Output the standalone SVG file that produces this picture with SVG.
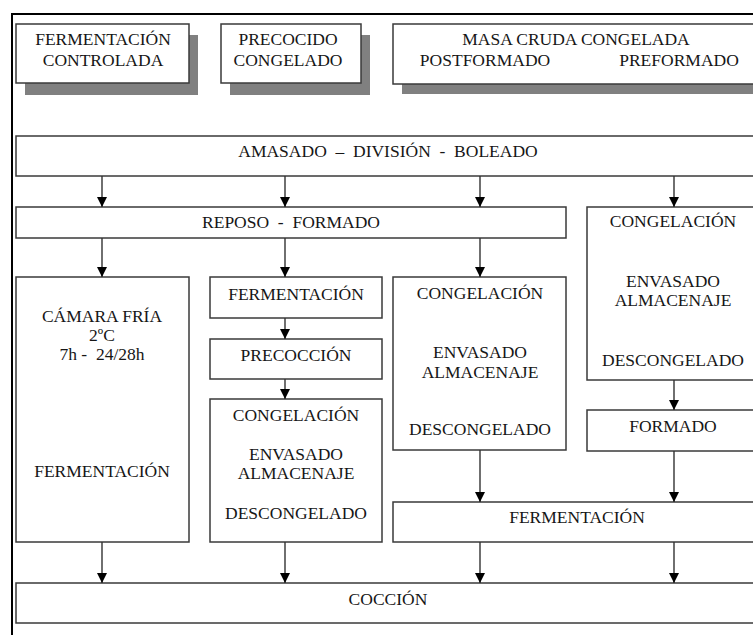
<svg xmlns="http://www.w3.org/2000/svg" width="753" height="635" viewBox="0 0 753 635">
<style>
.bx{fill:#fff;stroke:#3a3a3a;stroke-width:1.5}
.sh{fill:#808080;stroke:none}
.t{font-size:17.5px;fill:#161616;text-anchor:middle}
.c{stroke:#333;stroke-width:1.4;fill:none;marker-end:url(#ah)}
</style>
<defs>
<marker id="ah" viewBox="0 0 10 10" refX="10" refY="5" markerWidth="10" markerHeight="11" markerUnits="userSpaceOnUse" orient="auto">
<path d="M0,0 L10,5 L0,10 z" fill="#000"/>
</marker>
</defs>
<rect width="753" height="635" fill="#fff"/>
<rect id="frame" x="12" y="14" width="760" height="640" fill="none" stroke="#000" stroke-width="2"/>

<g font-family="'Liberation Serif', 'DejaVu Serif', serif">
<g id="n-fermentacion-controlada">
<rect class="sh" x="25" y="35" width="173" height="60"/>
<rect class="bx" x="16" y="24" width="173" height="59"/>
<text class="t" x="103" y="45">FERMENTACIÓN</text>
<text class="t" x="103" y="66">CONTROLADA</text>
</g>
<g id="n-precocido-congelado">
<rect class="sh" x="230" y="35" width="140" height="60"/>
<rect class="bx" x="221" y="24" width="140" height="59"/>
<text class="t" x="288" y="45">PRECOCIDO</text>
<text class="t" x="288" y="66">CONGELADO</text>
</g>
<g id="n-masa-cruda">
<rect class="sh" x="402" y="34" width="380" height="60"/>
<rect class="bx" x="393" y="24" width="380" height="60"/>
<text class="t" x="576" y="45">MASA CRUDA CONGELADA</text>
<text class="t" x="485" y="66">POSTFORMADO</text>
<text class="t" x="679" y="66">PREFORMADO</text>
</g>

<g id="n-amasado">
<rect class="bx" x="16" y="136" width="760" height="40"/>
<text class="t" x="388" y="157" xml:space="preserve">AMASADO  –  DIVISIÓN  -  BOLEADO</text>
</g>
<g id="n-reposo">
<rect class="bx" x="16" y="207" width="550" height="31"/>
<text class="t" x="291" y="228" xml:space="preserve">REPOSO  -  FORMADO</text>
</g>
<g id="n-congelacion-der">
<rect class="bx" x="587" y="207" width="190" height="173"/>
<text class="t" x="673" y="227">CONGELACIÓN</text>
<text class="t" x="673" y="287">ENVASADO</text>
<text class="t" x="673" y="306">ALMACENAJE</text>
<text class="t" x="673" y="366">DESCONGELADO</text>
</g>
<g id="n-camara">
<rect class="bx" x="16" y="277" width="173" height="265"/>
<text class="t" x="102" y="322">CÁMARA FRÍA</text>
<text class="t" x="102" y="341">2ºC</text>
<text class="t" x="102" y="360" xml:space="preserve">7h -  24/28h</text>
<text class="t" x="102" y="477">FERMENTACIÓN</text>
</g>
<g id="n-fermentacion-mid">
<rect class="bx" x="210" y="277" width="172" height="41"/>
<text class="t" x="296" y="300">FERMENTACIÓN</text>
</g>
<g id="n-precoccion">
<rect class="bx" x="210" y="339" width="172" height="40"/>
<text class="t" x="296" y="361">PRECOCCIÓN</text>
</g>
<g id="n-congelacion-mid">
<rect class="bx" x="210" y="399" width="172" height="143"/>
<text class="t" x="296" y="421">CONGELACIÓN</text>
<text class="t" x="296" y="460">ENVASADO</text>
<text class="t" x="296" y="479">ALMACENAJE</text>
<text class="t" x="296" y="519">DESCONGELADO</text>
</g>
<g id="n-congelacion-3">
<rect class="bx" x="393" y="277" width="173" height="173"/>
<text class="t" x="480" y="299">CONGELACIÓN</text>
<text class="t" x="480" y="358">ENVASADO</text>
<text class="t" x="480" y="378">ALMACENAJE</text>
<text class="t" x="480" y="435">DESCONGELADO</text>
</g>
<g id="n-formado">
<rect class="bx" x="587" y="410" width="190" height="41"/>
<text class="t" x="673" y="432">FORMADO</text>
</g>
<g id="n-fermentacion-bottom">
<rect class="bx" x="393" y="502" width="384" height="40"/>
<text class="t" x="577" y="523">FERMENTACIÓN</text>
</g>
<g id="n-coccion">
<rect class="bx" x="16" y="583" width="760" height="40"/>
<text class="t" x="388" y="605">COCCIÓN</text>
</g>
</g>

<g id="connectors">
<path class="c" d="M102,176V207"/>
<path class="c" d="M285,176V207"/>
<path class="c" d="M480,176V207"/>
<path class="c" d="M674,176V207"/>
<path class="c" d="M102,238V277"/>
<path class="c" d="M285,238V277"/>
<path class="c" d="M480,238V277"/>
<path class="c" d="M285,318V339"/>
<path class="c" d="M285,379V399"/>
<path class="c" d="M674,380V410"/>
<path class="c" d="M480,450V502"/>
<path class="c" d="M674,451V502"/>
<path class="c" d="M102,542V583"/>
<path class="c" d="M285,542V583"/>
<path class="c" d="M480,542V583"/>
<path class="c" d="M674,542V583"/>
</g>
</svg>
